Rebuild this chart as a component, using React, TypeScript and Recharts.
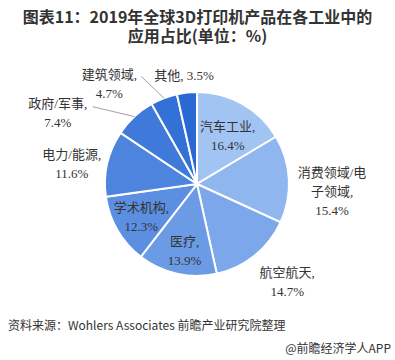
import { PieChart, Pie, Cell } from 'recharts';

const categories = ['汽车工业', '消费领域/电子领域', '航空航天', '医疗', '学术机构', '电力/能源', '政府/军事', '建筑领域', '其他'];
const shares = [16.4, 15.4, 14.7, 13.9, 12.3, 11.6, 7.4, 4.7, 3.5];

const colors = ['#a1c4f3', '#8fb6ef', '#7ca8eb', '#6c9be6', '#5c8fe2', '#4c84de', '#3f7adb', '#3471d7', '#2a69d3'];

// label placement per slice: distance factor, angle shift (deg, clockwise), line mode, leader end offset
const labelLayout = [
  { r: 0.62, shift: 3, mode: 'two' },
  { r: 1.47, shift: 6, mode: 'wrap' },
  { r: 1.44, shift: -4, mode: 'two' },
  { r: 0.73, shift: -2, mode: 'two' },
  { r: 0.7, shift: 0, mode: 'two' },
  { r: 1.38, shift: -3.5, mode: 'two' },
  { r: 1.7, shift: -20, mode: 'two', leader: [35, -6] },
  { r: 1.45, shift: -20, mode: 'two', leader: [32, -7] },
  { r: 1.19, shift: -0.5, mode: 'one' },
];

const data = categories.map((name, i) => ({ name, value: shares[i] }));

const FONT = '"Liberation Serif", "Noto Sans CJK SC", serif';

const renderLabel = (props: any) => {
  const { cx, cy, midAngle, outerRadius, index } = props;
  const cfg = labelLayout[index];
  const name = categories[index];
  const val = `${shares[index]}%`;
  const a = ((90 - midAngle + cfg.shift) * Math.PI) / 180;
  const x = cx + outerRadius * cfg.r * Math.sin(a);
  const y = cy - outerRadius * cfg.r * Math.cos(a);

  let lines: string[];
  if (cfg.mode === 'one') lines = [`${name}, ${val}`];
  else if (cfg.mode === 'wrap') lines = [name.slice(0, 6), `${name.slice(6)},`, val];
  else lines = [`${name},`, val];

  const lh = 19;
  const y0 = y - ((lines.length - 1) * lh) / 2;

  let leader = null;
  if (cfg.leader) {
    const ma = ((90 - midAngle) * Math.PI) / 180;
    const ex = cx + outerRadius * Math.sin(ma);
    const ey = cy - outerRadius * Math.cos(ma);
    leader = (
      <line x1={ex} y1={ey} x2={x + cfg.leader[0]} y2={y + cfg.leader[1]} stroke="#8a8a8a" strokeWidth={0.8} />
    );
  }

  return (
    <g>
      {leader}
      <text x={x} y={y0} textAnchor="middle" dominantBaseline="central" fill="#333" fontSize={13} fontFamily={FONT}>
        {lines.map((l, i) => (
          <tspan key={i} x={x} dy={i === 0 ? 0 : lh}>
            {l}
          </tspan>
        ))}
      </text>
    </g>
  );
};

export default function App() {
  return (
    <div style={{ position: 'absolute', top: 0, left: 0, width: 395, height: 360, background: '#fff', overflow: 'hidden' }}>
      <div
        style={{
          position: 'absolute',
          top: 7,
          left: 0,
          width: 395,
          textAlign: 'center',
          fontFamily: '"Noto Sans CJK SC", sans-serif',
          fontWeight: 'bold',
          fontSize: 16,
          lineHeight: '19px',
          color: '#333',
        }}
      >
        图表11：2019年全球3D打印机产品在各工业中的
        <br />
        应用占比(单位：%)
      </div>
      <PieChart width={395} height={360} style={{ position: 'absolute', top: 0, left: 0 }}>
        <Pie
          data={data}
          dataKey="value"
          nameKey="name"
          cx={192}
          cy={179}
          outerRadius={92}
          startAngle={90}
          endAngle={-270}
          stroke="#fff"
          strokeWidth={2}
          label={renderLabel}
          labelLine={false}
          isAnimationActive={false}
        >
          {data.map((d, i) => (
            <Cell key={d.name} fill={colors[i]} />
          ))}
        </Pie>
      </PieChart>
      <div
        style={{
          position: 'absolute',
          top: 316,
          left: 8,
          fontFamily: '"Noto Sans CJK SC", sans-serif',
          fontSize: 12,
          color: '#333',
          whiteSpace: 'nowrap',
        }}
      >
        资料来源：Wohlers Associates 前瞻产业研究院整理
      </div>
      <div
        style={{
          position: 'absolute',
          top: 339,
          right: 4,
          fontFamily: '"Noto Sans CJK SC", sans-serif',
          fontSize: 12,
          color: '#333',
          whiteSpace: 'nowrap',
        }}
      >
        @前瞻经济学人APP
      </div>
    </div>
  );
}
